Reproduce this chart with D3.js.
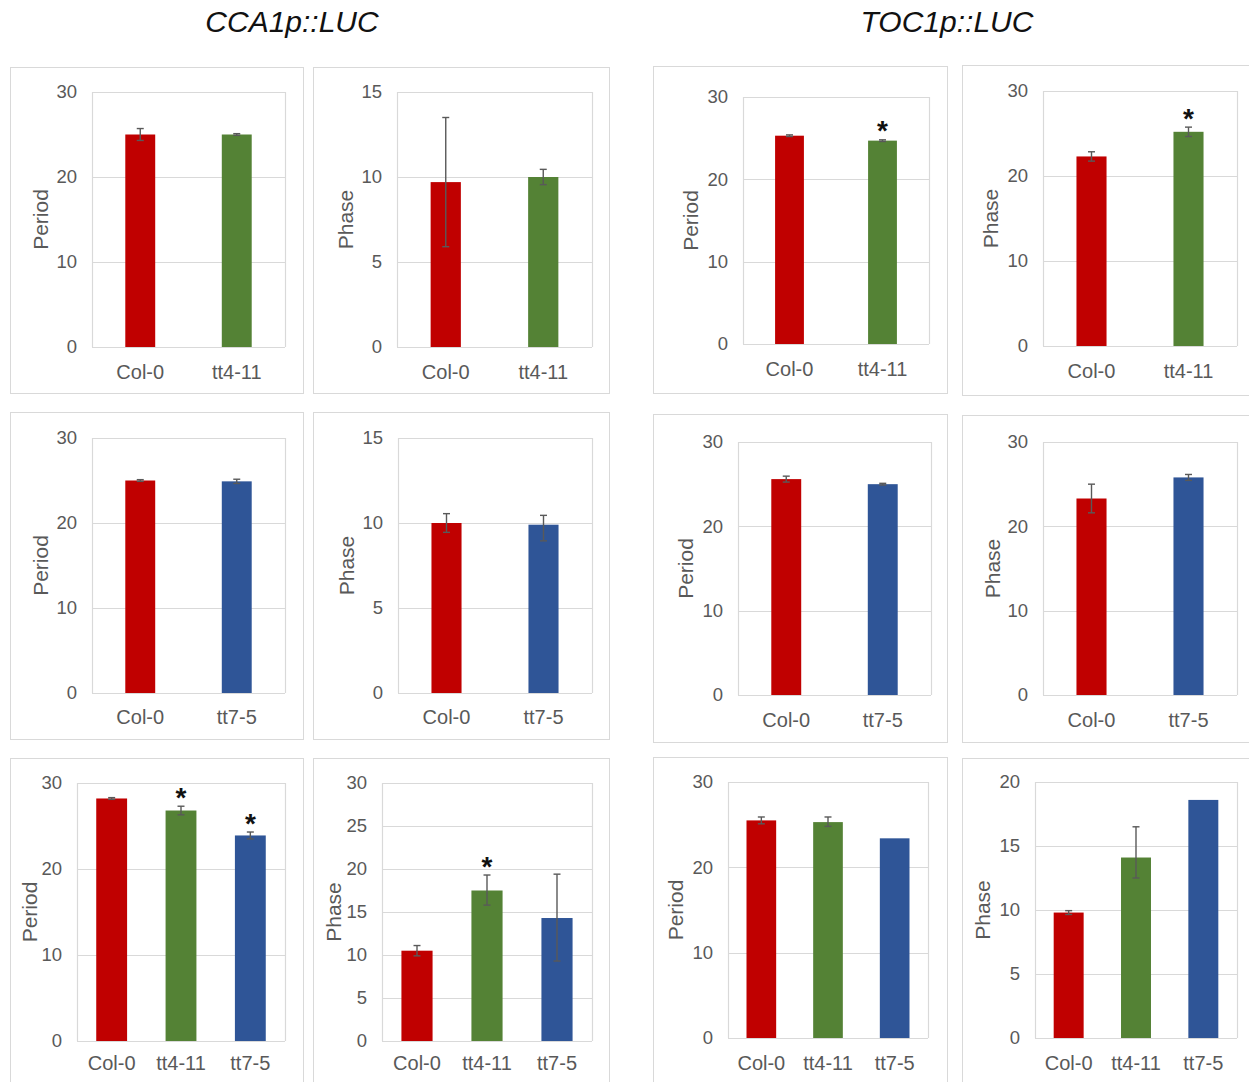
<!DOCTYPE html>
<html>
<head>
<meta charset="utf-8">
<script src="https://cdn.jsdelivr.net/npm/d3@7"></script>
<style>
  html, body { margin: 0; padding: 0; background: #fff; }
  svg { display: block; font-family: "Liberation Sans", Arial, sans-serif; }
</style>
</head>
<body>
<svg id="fig" width="1249" height="1082"></svg>
<script>
// ---- genotypes ----
const genotypesTt4 = ["Col-0", "tt4-11"];
const genotypesTt7 = ["Col-0", "tt7-5"];
const genotypesAll = ["Col-0", "tt4-11", "tt7-5"];

// ---- reporter titles ----
const reporterTitles = ["CCA1p::LUC", "TOC1p::LUC"];

// ---- values (mean) and error bars as [down, up] ----
const cca1PeriodTt4 = [25.0, 25.0];
const cca1PeriodTt4Err = [[0.7, 0.7], [0.1, 0.1]];
const cca1PhaseTt4 = [9.7, 10.0];
const cca1PhaseTt4Err = [[3.8, 3.8], [0.45, 0.45]];
const toc1PeriodTt4 = [25.3, 24.7];
const toc1PeriodTt4Err = [[0.1, 0.1], [0.1, 0.1]];
const toc1PhaseTt4 = [22.3, 25.2];
const toc1PhaseTt4Err = [[0.55, 0.55], [0.55, 0.55]];

const cca1PeriodTt7 = [25.0, 24.9];
const cca1PeriodTt7Err = [[0.1, 0.1], [0.25, 0.25]];
const cca1PhaseTt7 = [10.0, 9.9];
const cca1PhaseTt7Err = [[0.55, 0.55], [0.95, 0.55]];
const toc1PeriodTt7 = [25.6, 25.0];
const toc1PeriodTt7Err = [[0.35, 0.35], [0.1, 0.1]];
const toc1PhaseTt7 = [23.3, 25.8];
const toc1PhaseTt7Err = [[1.7, 1.7], [0.35, 0.35]];

const cca1PeriodAll = [28.2, 26.8, 23.9];
const cca1PeriodAllErr = [[0.1, 0.1], [0.5, 0.5], [0.4, 0.4]];
const cca1PhaseAll = [10.5, 17.5, 14.3];
const cca1PhaseAllErr = [[0.6, 0.6], [1.7, 1.8], [5.0, 5.1]];
const toc1PeriodAll = [25.5, 25.3, 23.4];
const toc1PeriodAllErr = [[0.4, 0.4], [0.5, 0.6], [0, 0]];
const toc1PhaseAll = [9.8, 14.1, 18.6];
const toc1PhaseAllErr = [[0.15, 0.15], [1.6, 2.4], [0, 0]];

// ---- significance marks (*) ----
const toc1PeriodTt4Sig = [false, true];
const toc1PhaseTt4Sig = [false, true];
const cca1PeriodAllSig = [false, true, true];
const cca1PhaseAllSig = [false, true, false];
const noSig2 = [false, false];
const noSig3 = [false, false, false];

// ---- y-axis tick values ----
const yTicks30 = [0, 10, 20, 30];
const yTicks15 = [0, 5, 10, 15];
const yTicks30by5 = [0, 5, 10, 15, 20, 25, 30];
const yTicks20 = [0, 5, 10, 15, 20];

// ---- colours per genotype ----
const genotypeColor = { "Col-0": "#c00000", "tt4-11": "#548235", "tt7-5": "#2f5597" };

const textGrey = "#595959";
const lineGrey = "#d9d9d9";

// Panel layout: box = chart frame, plot = plotting area [x0, y0, x1, y1]
const panels = [
  { box: [10, 67, 303, 393],  plot: [92, 92, 285, 347],   cats: genotypesTt4, vals: cca1PeriodTt4, err: cca1PeriodTt4Err, sig: noSig2, ticks: yTicks30, title: "Period", tx: 40, xPad: 18 },
  { box: [313, 67, 609, 393], plot: [397, 92, 592, 347],  cats: genotypesTt4, vals: cca1PhaseTt4, err: cca1PhaseTt4Err, sig: noSig2, ticks: yTicks15, title: "Phase", tx: 345, xPad: 18 },
  { box: [653, 66, 947, 393], plot: [743, 97, 929, 344],  cats: genotypesTt4, vals: toc1PeriodTt4, err: toc1PeriodTt4Err, sig: toc1PeriodTt4Sig, ticks: yTicks30, title: "Period", tx: 690, xPad: 18 },
  { box: [962, 65, 1260, 395], plot: [1043, 91, 1237, 346], cats: genotypesTt4, vals: toc1PhaseTt4, err: toc1PhaseTt4Err, sig: toc1PhaseTt4Sig, ticks: yTicks30, title: "Phase", tx: 990, xPad: 18 },

  { box: [10, 412, 303, 739],  plot: [92, 438, 285, 693],  cats: genotypesTt7, vals: cca1PeriodTt7, err: cca1PeriodTt7Err, sig: noSig2, ticks: yTicks30, title: "Period", tx: 40, xPad: 17 },
  { box: [313, 412, 609, 739], plot: [398, 438, 592, 693], cats: genotypesTt7, vals: cca1PhaseTt7, err: cca1PhaseTt7Err, sig: noSig2, ticks: yTicks15, title: "Phase", tx: 346, xPad: 17 },
  { box: [653, 414, 947, 742], plot: [738, 442, 931, 695], cats: genotypesTt7, vals: toc1PeriodTt7, err: toc1PeriodTt7Err, sig: noSig2, ticks: yTicks30, title: "Period", tx: 685, xPad: 18 },
  { box: [962, 415, 1260, 742], plot: [1043, 442, 1237, 695], cats: genotypesTt7, vals: toc1PhaseTt7, err: toc1PhaseTt7Err, sig: noSig2, ticks: yTicks30, title: "Phase", tx: 992, xPad: 18 },

  { box: [10, 758, 303, 1095],  plot: [77, 783, 285, 1041],  cats: genotypesAll, vals: cca1PeriodAll, err: cca1PeriodAllErr, sig: cca1PeriodAllSig, ticks: yTicks30, title: "Period", tx: 29, xPad: 15 },
  { box: [313, 758, 609, 1095], plot: [382, 783, 592, 1041], cats: genotypesAll, vals: cca1PhaseAll, err: cca1PhaseAllErr, sig: cca1PhaseAllSig, ticks: yTicks30by5, title: "Phase", tx: 333, xPad: 15 },
  { box: [653, 757, 947, 1095], plot: [728, 782, 928, 1038], cats: genotypesAll, vals: toc1PeriodAll, err: toc1PeriodAllErr, sig: noSig3, ticks: yTicks30, title: "Period", tx: 675, xPad: 18 },
  { box: [962, 758, 1260, 1095], plot: [1035, 782, 1237, 1038], cats: genotypesAll, vals: toc1PhaseAll, err: toc1PhaseAllErr, sig: noSig3, ticks: yTicks20, title: "Phase", tx: 982, xPad: 18 }
];

const svg = d3.select("#fig");

// Reporter titles above the two column groups
svg.selectAll("text.reporter")
  .data(reporterTitles)
  .join("text")
  .attr("class", "reporter")
  .attr("x", (d, i) => i === 0 ? 292 : 947)
  .attr("y", 32)
  .attr("text-anchor", "middle")
  .attr("font-size", 30)
  .attr("font-style", "italic")
  .attr("fill", "#111")
  .text(d => d);

panels.forEach(p => {
  const g = svg.append("g");
  const [bx0, by0, bx1, by1] = p.box;
  const [px0, py0, px1, py1] = p.plot;

  // chart frame
  g.append("rect")
    .attr("x", bx0 + 0.5).attr("y", by0 + 0.5)
    .attr("width", bx1 - bx0).attr("height", by1 - by0)
    .attr("fill", "#fff").attr("stroke", lineGrey).attr("stroke-width", 1);

  const pad = p.cats.length === 2 ? 0.69 : 0.555;
  const x = d3.scaleBand().domain(p.cats).range([px0, px1])
    .paddingInner(pad).paddingOuter(pad / 2);
  const yMax = p.ticks[p.ticks.length - 1];
  const y = d3.scaleLinear().domain([0, yMax]).range([py1, py0]);

  // gridlines
  g.append("g").selectAll("line")
    .data(p.ticks)
    .join("line")
    .attr("x1", px0).attr("x2", px1)
    .attr("y1", d => Math.round(y(d)) + 0.5).attr("y2", d => Math.round(y(d)) + 0.5)
    .attr("stroke", lineGrey).attr("stroke-width", 1.2);

  // plot-area side borders
  [px0, px1].forEach(xx => {
    g.append("line")
      .attr("x1", xx + 0.5).attr("x2", xx + 0.5)
      .attr("y1", py0).attr("y2", py1)
      .attr("stroke", lineGrey).attr("stroke-width", 1.2);
  });

  // y axis labels
  const yAxis = d3.axisLeft(y).tickValues(p.ticks).tickSize(0).tickPadding(15).tickFormat(d3.format("d"));
  const ya = g.append("g").attr("transform", `translate(${px0},0)`).call(yAxis);
  ya.select(".domain").remove();
  ya.selectAll("text").attr("font-size", 18.5).attr("fill", textGrey)
    .attr("font-family", "'Liberation Sans', Arial, sans-serif");

  // x axis labels
  const xAxis = d3.axisBottom(x).tickSize(0).tickPadding(p.xPad);
  const xa = g.append("g").attr("transform", `translate(0,${py1})`).call(xAxis);
  xa.select(".domain").remove();
  xa.selectAll("text").attr("font-size", 20).attr("fill", textGrey)
    .attr("font-family", "'Liberation Sans', Arial, sans-serif");

  // bars
  const rows = p.cats.map((c, i) => ({ cat: c, v: p.vals[i], lo: p.err[i][0], hi: p.err[i][1], sig: p.sig[i] }));
  g.append("g").selectAll("rect")
    .data(rows)
    .join("rect")
    .attr("x", d => x(d.cat))
    .attr("width", x.bandwidth())
    .attr("y", d => y(d.v))
    .attr("height", d => y(0) - y(d.v))
    .attr("fill", d => genotypeColor[d.cat]);

  // error bars
  const eb = g.append("g").attr("stroke", textGrey).attr("stroke-width", 1.4);
  rows.filter(d => d.lo > 0 || d.hi > 0).forEach(d => {
    const cx = x(d.cat) + x.bandwidth() / 2;
    const yt = y(d.v + d.hi), yb = y(d.v - d.lo);
    eb.append("line").attr("x1", cx).attr("x2", cx).attr("y1", yt).attr("y2", yb);
    eb.append("line").attr("x1", cx - 3.5).attr("x2", cx + 3.5).attr("y1", yt).attr("y2", yt);
    eb.append("line").attr("x1", cx - 3.5).attr("x2", cx + 3.5).attr("y1", yb).attr("y2", yb);
  });

  // significance asterisks
  g.append("g").selectAll("text")
    .data(rows.filter(d => d.sig))
    .join("text")
    .attr("x", d => x(d.cat) + x.bandwidth() / 2)
    .attr("y", d => y(d.v + d.hi) + 0.5)
    .attr("text-anchor", "middle")
    .attr("font-size", 28)
    .attr("font-weight", "bold")
    .attr("fill", "#111")
    .text("*");

  // y axis title
  g.append("text")
    .attr("transform", `translate(${p.tx},${(py0 + py1) / 2}) rotate(-90)`)
    .attr("text-anchor", "middle")
    .attr("dominant-baseline", "central")
    .attr("font-size", 21)
    .attr("fill", textGrey)
    .text(p.title);
});
</script>
</body>
</html>
